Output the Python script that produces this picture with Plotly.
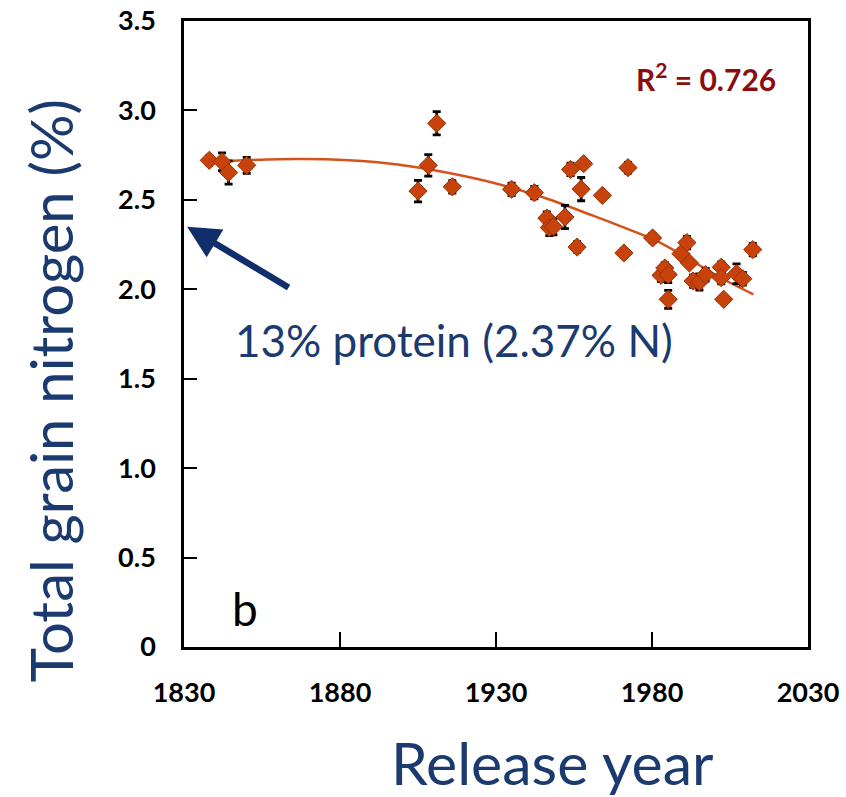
import plotly.graph_objects as go

# Data
years = [1838.1, 1842.2, 1844.3, 1850.1, 1905.0, 1908.3, 1911.0, 1916.0,
         1935.0, 1942.3, 1946.3, 1947.1, 1948.4, 1952.1, 1953.9, 1956.0,
         1957.3, 1958.1, 1964.1, 1971.0, 1972.3, 1980.2, 1982.9, 1984.1,
         1985.2, 1985.2, 1989.3, 1991.2, 1992.0, 1993.2, 1995.2, 1997.2,
         2002.2, 2002.2, 2003.0, 2007.1, 2009.1, 2012.3]
nitrogen = [2.721, 2.713, 2.653, 2.693, 2.549, 2.693, 2.928, 2.573,
            2.559, 2.540, 2.398, 2.345, 2.350, 2.404, 2.670, 2.236,
            2.560, 2.702, 2.525, 2.203, 2.680, 2.287, 2.078, 2.119,
            2.082, 1.944, 2.199, 2.261, 2.147, 2.046, 2.041, 2.082,
            2.123, 2.065, 1.944, 2.087, 2.059, 2.222]
errors = [0.025, 0.05, 0.065, 0.045, 0.06, 0.06, 0.065, 0.035,
          0.035, 0.035, 0.035, 0.045, 0.045, 0.065, 0.035, 0.03,
          0.065, 0.02, 0.01, 0.025, 0.03, 0.025, 0.035, 0.03,
          0.045, 0.05, 0.025, 0.035, 0.02, 0.035, 0.045, 0.035,
          0.03, 0.035, 0.015, 0.055, 0.035, 0.035]

# Trend line
fit_years = [1838.0, 1851.6, 1867.2, 1882.8, 1898.4, 1914.1, 1929.7, 1945.3,
             1960.9, 1971.3, 1981.8, 1992.2, 2002.6, 2012.5]
fit_values = [2.713, 2.723, 2.728, 2.721, 2.698, 2.653, 2.593, 2.513, 2.413,
              2.343, 2.268, 2.165, 2.059, 1.972]

x_ticks = [1830, 1880, 1930, 1980, 2030]
y_ticks = [0, 0.5, 1.0, 1.5, 2.0, 2.5, 3.0, 3.5]
y_tick_text = ["0", "0.5", "1.0", "1.5", "2.0", "2.5", "3.0", "3.5"]

navy = "#1B3A70"
tick_font = dict(size=27, family="Lato", weight=700, color="black")

fig = go.Figure()
fig.add_trace(go.Scatter(x=fit_years, y=fit_values, mode="lines",
                         line=dict(color="#D4531A", width=2.5, shape="spline"),
                         hoverinfo="skip", showlegend=False))
fig.add_trace(go.Scatter(
    x=years, y=nitrogen, mode="markers",
    marker=dict(symbol="diamond", size=14, color="#C8420C",
                line=dict(color="#9A3005", width=1)),
    error_y=dict(type="data", array=errors, visible=True, color="black",
                 thickness=2.8, width=4),
    showlegend=False))

fig.update_layout(
    width=846, height=797,
    margin=dict(l=184, r=38, t=21, b=150, autoexpand=False),
    paper_bgcolor="white", plot_bgcolor="white",
    font=dict(family="Lato", color="black"),
    xaxis=dict(range=[1830, 2030.01], tickvals=x_ticks, ticks="inside", ticklen=15,
               tickwidth=2, tickcolor="black", showline=True, linecolor="black",
               linewidth=2.5, mirror=True, showgrid=False, zeroline=False,
               automargin=False,
               tickfont=tick_font, ticklabelstandoff=20, ticklabeloverflow="allow"),
    yaxis=dict(range=[0, 3.5], tickvals=y_ticks, ticktext=y_tick_text,
               ticks="inside", ticklen=13, tickwidth=2, tickcolor="black",
               showline=True, linecolor="black", linewidth=2.5, mirror=True,
               showgrid=False, zeroline=False, automargin=False,
               tickfont=tick_font, ticklabelstandoff=20),
)

fig.add_annotation(text="Total grain nitrogen (%)", textangle=-90,
                   xref="paper", yref="paper", x=-0.215, y=0.41,
                   xanchor="center", yanchor="middle", showarrow=False,
                   font=dict(size=58, color=navy, family="Lato"))
fig.add_annotation(text="Release year", xref="paper", yref="paper",
                   x=0.59, y=-0.185, xanchor="center", yanchor="middle",
                   showarrow=False, font=dict(size=59, color=navy, family="Lato"))
fig.add_annotation(text="13% protein (2.37% N)", xref="x", yref="y",
                   x=1845.7, y=1.716, xanchor="left", yanchor="middle",
                   showarrow=False, font=dict(size=44, color=navy, family="Lato"))
fig.add_annotation(x=1831, y=2.35, ax=1864.0, ay=2.005, xref="x", yref="y",
                   axref="x", ayref="y", showarrow=True, arrowhead=2,
                   arrowsize=1.0, arrowwidth=6.5, arrowcolor="#102E6A", text="")
fig.add_annotation(text="R<sup>2</sup> = 0.726", xref="x", yref="y", x=1997.3, y=3.187,
                   xanchor="center", yanchor="middle", showarrow=False,
                   font=dict(size=30, color="#8B0E0E", family="Lato", weight=700))
fig.add_annotation(text="b", xref="x", yref="y", x=1849.6, y=0.216,
                   xanchor="center", yanchor="middle", showarrow=False,
                   font=dict(size=46, color="black", family="Lato"))

fig.write_html("out.html")
